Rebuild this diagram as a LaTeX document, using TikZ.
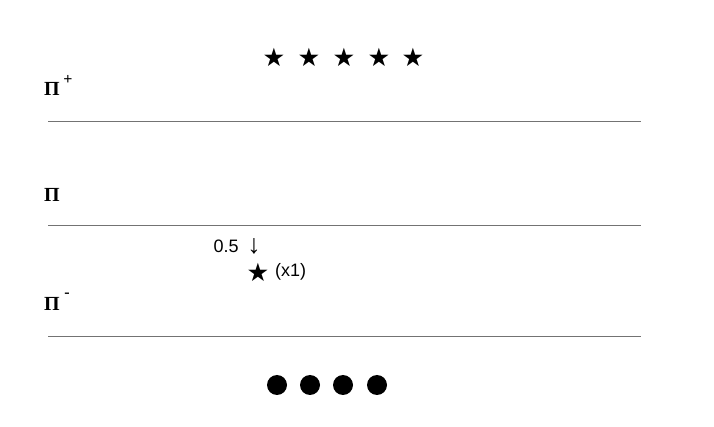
\documentclass[tikz,border=0pt]{standalone}
\usepackage{fontspec}
\setmainfont{Liberation Serif}
\setsansfont{Liberation Sans}
\newfontfamily\symfont{DejaVu Sans}
\usetikzlibrary{positioning}

\begin{document}
\begin{tikzpicture}[x=0.75pt, y=-0.75pt,
    level/.style={draw=black!55, line width=0.5pt},
    pilabel/.style={font=\bfseries\fontsize{15}{15}\selectfont, inner sep=0pt},
    charge/.style={font=\bfseries\fontsize{12}{12}\selectfont, inner sep=0pt},
    bigstar/.style={font=\symfont\fontsize{19}{19}\selectfont, inner sep=0pt},
    bigdot/.style={circle, fill=black, minimum size=15pt, inner sep=0pt},
    note/.style={font=\sffamily\fontsize{13.5}{13.5}\selectfont, inner sep=0pt}]
\useasboundingbox (0,0) rectangle (714,427);

% energy levels
\coordinate (topL) at (48,121);  \coordinate (topR) at (641,121);
\coordinate (midL) at (48,225);  \coordinate (midR) at (641,225);
\coordinate (lowL) at (48,336);  \coordinate (lowR) at (641,336);
\draw[level] (topL) -- (topR);
\draw[level] (midL) -- (midR);
\draw[level] (lowL) -- (lowR);

% labels
\node[pilabel] (piplus) at (52,89) {П};
\node[charge] (plus) at (68,80) {+};
\node[pilabel] (pizero) at (52,195) {П};
\node[pilabel] (piminus) at (52,304) {П};
\node[charge] (minus) at (67,295) {-};

% stars on top
\foreach \i/\x in {1/274,2/309,3/344,4/379,5/413}
  \node[bigstar] (star\i) at (\x,57) {★};

% transition
\node[note, anchor=east] (rate) at (239,246) {0.5};
\node[font=\sffamily\fontsize{20}{20}\selectfont, inner sep=0pt] (down) at (254,246) {↓};
\node[bigstar] (onestar) at (258,272) {★};
\node[note, right=4pt of onestar] (count) {(x1)};

% dots at the bottom
\foreach \i/\x in {1/277,2/310,3/343,4/377}
  \node[bigdot] (dot\i) at (\x,385) {};
\end{tikzpicture}
\end{document}
